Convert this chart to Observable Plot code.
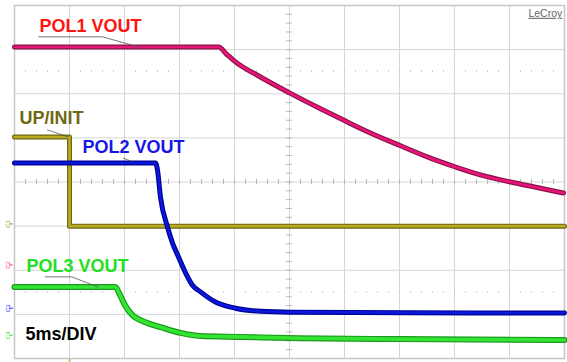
<!DOCTYPE html>
<html>
<head>
<meta charset="utf-8">
<script src="https://cdn.jsdelivr.net/npm/d3@7"></script>
<script src="https://cdn.jsdelivr.net/npm/@observablehq/plot@0.6"></script>
<style>
  html, body { margin: 0; padding: 0; background: #ffffff; }
  #chart { width: 567px; height: 362px; }
</style>
</head>
<body>
<div id="chart"></div>
<script>
// ---- Data (time in ms, amplitude in screen divisions) ----
const timeGrid = [0, 5, 10, 15, 20, 25, 30, 35, 40, 45, 50];
const divGrid = [-4, -3, -2, -1, 0, 1, 2, 3, 4];
const timeLabel = "5ms/DIV";

const pol1T = [0, 18.55, 19.27, 20, 22.36, 25, 27.82, 30.09, 32.36, 35.09, 37.82, 40.09, 42.36, 45.09, 47.82, 49.91];
const pol1V = [3.06, 3.06, 2.90, 2.74, 2.38, 2.02, 1.66, 1.38, 1.11, 0.82, 0.54, 0.34, 0.16, 0.0, -0.14, -0.25];

const upInitT = [0, 5, 5, 50];
const upInitV = [1.02, 1.02, -1.0, -1.0];

const pol2T = [0, 12.82, 13.0, 13.27, 13.91, 14.36, 14.91, 15.55, 16.18, 16.91, 18.27, 20.09, 22.36, 25.09, 50];
const pol2V = [0.43, 0.43, 0.27, -0.34, -1.02, -1.38, -1.70, -2.06, -2.34, -2.49, -2.72, -2.86, -2.93, -2.95, -2.97];

const pol3T = [0, 9.18, 9.55, 10.09, 10.73, 11.45, 12.36, 13.27, 15.09, 16.91, 20.55, 26.0, 35.09, 50];
const pol3V = [-2.38, -2.38, -2.54, -2.81, -3.02, -3.13, -3.22, -3.29, -3.42, -3.49, -3.51, -3.54, -3.56, -3.58];

const seriesNames = ["POL1 VOUT", "UP/INIT", "POL2 VOUT", "POL3 VOUT"];
const channelNames = ["C1", "C2", "C3", "C4"];
const channelLevels = [-0.95, -1.88, -2.86, -3.47];

// ---- Build tables ----
const toRows = (T, V) => T.map((t, i) => ({t, v: V[i]}));
const pol1 = toRows(pol1T, pol1V);
const upInit = toRows(upInitT, upInitV);
const pol2 = toRows(pol2T, pol2V);
const pol3 = toRows(pol3T, pol3V);
const minorT = d3.range(0, 50.01, 1);
const minorV = d3.range(-4, 4.01, 0.2);

// label pointers (annotation callouts, data units)
const ptr1 = [{t: 2.2, v: 3.29}, {t: 8.0, v: 3.29}, {t: 11.3, v: 3.06}];
const ptrUp = [{t: 3.0, v: 1.18}, {t: 4.9, v: 1.02}];
const ptr2 = [{t: 9.9, v: 0.54}, {t: 10.6, v: 0.47}];
const ptr3 = [{t: 2.8, v: -2.15}, {t: 5.2, v: -2.15}, {t: 7.6, v: -2.38}];

const traceStyles = [
  {data: pol1, edge: "#8a1445", core: "#e8157c", w: 5},
  {data: upInit, edge: "#6c6712", core: "#b9ab22", w: 5, curve: "linear"},
  {data: pol2, edge: "#00009a", core: "#0a18d8", w: 5},
  {data: pol3, edge: "#1d9a1d", core: "#33e433", w: 6}
];

const font = "'Liberation Sans', Arial, Helvetica, sans-serif";

const marks = [
  // grid
  Plot.ruleX(timeGrid, {x: d => d, stroke: "#d6d6d6", strokeWidth: 1}),
  Plot.ruleY(divGrid, {y: d => d, stroke: "#d6d6d6", strokeWidth: 1}),
  // center minor ticks
  Plot.ruleX(minorT, {x: d => d, y1: -0.06, y2: 0.06, stroke: "#b8b8b8"}),
  Plot.ruleY(minorV, {y: d => d, x1: 24.72, x2: 25.28, stroke: "#b8b8b8"}),
  // dotted rows
  Plot.ruleX(minorT, {x: d => d, y1: 2.485, y2: 2.515, stroke: "#bdbdbd"}),
  Plot.ruleX(minorT, {x: d => d, y1: -2.485, y2: -2.515, stroke: "#bdbdbd"}),
  Plot.frame({stroke: "#c6c6c6", strokeWidth: 1.5}),
];

// traces
for (const s of traceStyles) {
  const curve = s.curve || "monotone-x";
  marks.push(Plot.line(s.data, {x: "t", y: "v", stroke: s.edge, strokeWidth: s.w, curve, strokeLinejoin: "round"}));
  marks.push(Plot.line(s.data, {x: "t", y: "v", stroke: s.core, strokeWidth: s.w - 2.4, curve, strokeLinejoin: "round"}));
}

// callout lines
for (const p of [ptr1, ptrUp, ptr2, ptr3]) {
  marks.push(Plot.line(p, {x: "t", y: "v", stroke: "#555", strokeWidth: 0.8}));
}

// labels
const labelStyle = {textAnchor: "start", fontSize: 18, fontWeight: "bold", fontFamily: font};
marks.push(Plot.text([seriesNames[0]], {x: 2.27, y: 3.54, text: d => d, fill: "#ff1414", ...labelStyle}));
marks.push(Plot.text([seriesNames[1]], {x: 0.45, y: 1.44, text: d => d, fill: "#6e6912", ...labelStyle}));
marks.push(Plot.text([seriesNames[2]], {x: 6.18, y: 0.79, text: d => d, fill: "#1616e8", ...labelStyle}));
marks.push(Plot.text([seriesNames[3]], {x: 1.09, y: -1.92, text: d => d, fill: "#22e022", ...labelStyle}));
marks.push(Plot.text([timeLabel], {x: 1.0, y: -3.44, text: d => d, fill: "#000", ...labelStyle}));

// LeCroy logo text
marks.push(Plot.text(["LeCroy"], {x: 49.8, y: 3.82, text: d => d, textAnchor: "end", fontSize: 10.5, fill: "#666", fontFamily: font}));

// channel ground markers
const chanColors = ["#a59a1c", "#ff3aa0", "#2a2aff", "#33dd33"];
marks.push(Plot.text(channelNames, {x: -0.62, y: (d, i) => channelLevels[i], text: d => d, rotate: -90, fontSize: 6, fill: (d, i) => chanColors[i], fontFamily: font}));
marks.push(Plot.ruleY(channelLevels, {y: d => d, x1: -0.45, x2: -0.1, stroke: (d, i) => chanColors[i], strokeWidth: 1}));

// trigger marker
marks.push(Plot.ruleX([5], {x: d => d, y1: -4.02, y2: -4.1, stroke: "#e0a020", strokeWidth: 1.5}));

const chart = Plot.plot({
  width: 567,
  height: 362,
  marginLeft: 14,
  marginRight: 3,
  marginTop: 5,
  marginBottom: 4,
  x: {domain: [0, 50], axis: null},
  y: {domain: [-4, 4], axis: null},
  style: {background: "#ffffff", fontFamily: font, overflow: "visible"},
  marks
});

document.getElementById("chart").appendChild(chart);
chart.querySelectorAll("text").forEach(t => {
  if (t.textContent === "LeCroy") t.setAttribute("text-decoration", "underline");
});
</script>
</body>
</html>
